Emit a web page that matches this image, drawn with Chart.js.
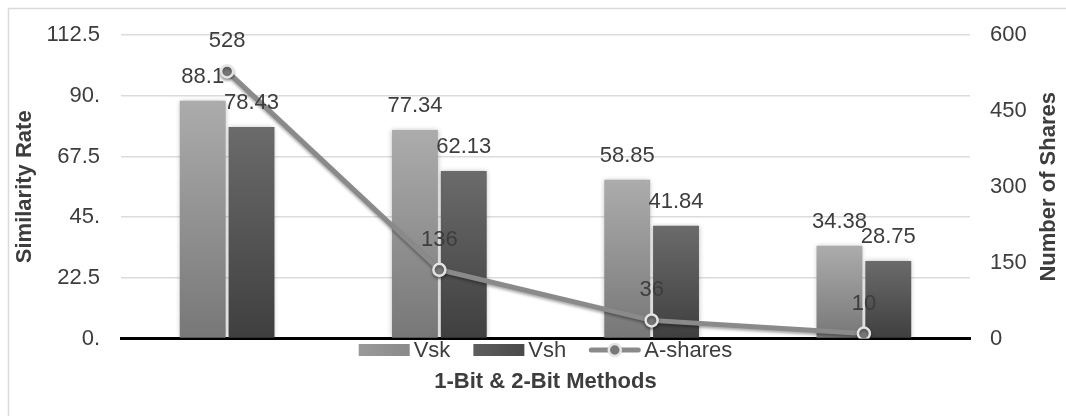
<!DOCTYPE html>
<html>
<head>
<meta charset="utf-8">
<script src="https://cdn.jsdelivr.net/npm/chart.js@4/dist/chart.umd.min.js"></script>
<style>
  html, body { margin: 0; padding: 0; background: #ffffff; }
  #wrap { width: 1066px; height: 416px; position: relative; }
</style>
</head>
<body>
<div id="wrap"><canvas id="chart" width="1066" height="416"></canvas></div>
<script>
// Method groups (no category text is drawn on the axis)
const categories = ['Method 1', 'Method 2', 'Method 3', 'Method 4'];

// Similarity rates (left axis)
const vskValues = [88.1, 77.34, 58.85, 34.38];
const vshValues = [78.43, 62.13, 41.84, 28.75];

// Number of shares (right axis)
const sharesValues = [528, 136, 36, 10];

// Axis ranges and tick steps
const leftTicks = [0, 22.5, 45, 67.5, 90, 112.5];
const rightTicks = [0, 150, 300, 450, 600];

const FONT = '"Liberation Sans", Arial, Helvetica, sans-serif';
const TEXT = '#3d3d3d';

function barGradient(topColor, bottomColor) {
  return function (ctx) {
    const chart = ctx.chart;
    const yScale = chart.scales && chart.scales.y;
    if (!chart.chartArea || !yScale || ctx.raw === undefined) return bottomColor;
    const yTop = yScale.getPixelForValue(ctx.raw);
    const yBot = yScale.getPixelForValue(0);
    if (!isFinite(yTop) || !isFinite(yBot) || yTop === yBot) return bottomColor;
    const g = chart.ctx.createLinearGradient(0, yTop, 0, yBot);
    g.addColorStop(0, topColor);
    g.addColorStop(1, bottomColor);
    return g;
  };
}

// Frame, right-hand axis title, value labels and the legend row
const decorations = {
  id: 'decorations',
  beforeDraw(chart) {
    const c = chart.ctx;
    c.save();
    c.strokeStyle = '#dadada';
    c.lineWidth = 1.5;
    c.strokeRect(8.5, 8.5, 1300, 700);
    c.restore();
  },
  beforeDatasetDraw(chart, args) {
    const c = chart.ctx;
    c.save();
    if (args.meta.type === 'bar') {
      c.shadowColor = 'rgba(0,0,0,0.28)';
      c.shadowBlur = 5;
    } else {
      c.shadowColor = 'rgba(0,0,0,0.35)';
      c.shadowBlur = 3;
      c.shadowOffsetY = 2;
    }
  },
  afterDatasetDraw(chart) {
    chart.ctx.restore();
  },
  afterDatasetsDraw(chart) {
    const c = chart.ctx;
    c.save();
    c.font = '22px ' + FONT;
    c.fillStyle = TEXT;
    c.textAlign = 'center';
    c.textBaseline = 'middle';
    chart.data.datasets.forEach((ds, di) => {
      const meta = chart.getDatasetMeta(di);
      meta.data.forEach((el, i) => {
        const off = meta.type === 'bar' ? 24 : 30;
        c.fillText(String(ds.data[i]), el.x, el.y - off);
      });
    });
    c.restore();
  },
  afterDraw(chart) {
    const c = chart.ctx;
    const area = chart.chartArea;
    c.save();
    // right axis title, reading upwards
    c.font = 'bold 22px ' + FONT;
    c.fillStyle = TEXT;
    c.textAlign = 'center';
    c.textBaseline = 'middle';
    c.translate(1049, (area.top + area.bottom) / 2);
    c.rotate(-Math.PI / 2);
    c.fillText('Number of Shares', 0, 0);
    c.restore();

    // legend row
    c.save();
    c.font = '22px ' + FONT;
    c.textBaseline = 'middle';
    c.textAlign = 'left';
    const boxW = 51, gapText = 4, gapItem = 23;
    const items = chart.data.datasets.map(ds => ({
      label: ds.label, type: ds.type || 'bar', swatch: ds.legendColor
    }));
    let total = 0;
    items.forEach((it, i) => {
      it.tw = c.measureText(it.label).width;
      total += boxW + gapText + it.tw + (i < items.length - 1 ? gapItem : 0);
    });
    let x = (area.left + area.right) / 2 - total / 2;
    const yc = 350;
    items.forEach(it => {
      if (it.type === 'line') {
        c.strokeStyle = '#8a8a8a';
        c.lineWidth = 5;
        c.lineCap = 'round';
        c.beginPath();
        c.moveTo(x + 2, yc);
        c.lineTo(x + boxW - 2, yc);
        c.stroke();
        c.beginPath();
        c.arc(x + boxW / 2, yc, 6, 0, Math.PI * 2);
        c.fillStyle = '#777777';
        c.fill();
        c.lineWidth = 2.5;
        c.strokeStyle = '#e4e4e4';
        c.stroke();
      } else {
        const g = c.createLinearGradient(x, 0, x + boxW, 0);
        g.addColorStop(0, it.swatch[0]);
        g.addColorStop(1, it.swatch[1]);
        c.fillStyle = g;
        c.fillRect(x, yc - 6, boxW, 12);
      }
      c.fillStyle = TEXT;
      c.fillText(it.label, x + boxW + gapText, yc + 1);
      x += boxW + gapText + it.tw + gapItem;
    });
    c.restore();
  }
};

new Chart(document.getElementById('chart'), {
  type: 'bar',
  data: {
    labels: categories,
    datasets: [
      {
        label: 'Vsk',
        data: vskValues,
        yAxisID: 'y',
        order: 1,
        backgroundColor: barGradient('#acacac', '#777777'),
        legendColor: ['#9a9a9a', '#8a8a8a'],
        categoryPercentage: 0.46,
        barPercentage: 0.94
      },
      {
        label: 'Vsh',
        data: vshValues,
        yAxisID: 'y',
        order: 1,
        backgroundColor: barGradient('#6b6b6b', '#3f3f3f'),
        legendColor: ['#5e5e5e', '#4a4a4a'],
        categoryPercentage: 0.46,
        barPercentage: 0.94
      },
      {
        label: 'A-shares',
        type: 'line',
        data: sharesValues,
        yAxisID: 'y1',
        order: 0,
        borderColor: '#8a8a8a',
        borderWidth: 5,
        tension: 0,
        pointRadius: 6,
        pointBackgroundColor: '#777777',
        pointBorderColor: '#e4e4e4',
        pointBorderWidth: 2.5
      }
    ]
  },
  options: {
    responsive: false,
    animation: false,
    layout: { padding: { top: 35, bottom: 21, left: 0, right: 0 } },
    plugins: {
      legend: { display: false },
      title: { display: false },
      tooltip: { enabled: false }
    },
    scales: {
      x: {
        ticks: { display: false },
        grid: { display: false, drawTicks: false },
        border: { display: true, color: '#000000', width: 3 },
        title: {
          display: true,
          text: '1-Bit & 2-Bit Methods',
          color: TEXT,
          font: { family: FONT, size: 22, weight: 'bold' },
          padding: { top: 30, bottom: 0 }
        }
      },
      y: {
        position: 'left',
        min: leftTicks[0],
        max: leftTicks[leftTicks.length - 1],
        afterBuildTicks(scale) {
          scale.ticks = leftTicks.map(v => ({ value: v }));
        },
        afterFit(scale) { scale.width = 121; },
        ticks: {
          color: TEXT,
          padding: 21,
          font: { family: FONT, size: 22 },
          callback: v => (Number.isInteger(v) ? v + '.' : String(v))
        },
        grid: { color: '#dcdcdc', lineWidth: 1.5, drawTicks: false },
        border: { display: false },
        title: {
          display: true,
          text: 'Similarity Rate',
          color: TEXT,
          font: { family: FONT, size: 22, weight: 'bold' },
          padding: { top: 12, bottom: 0 }
        }
      },
      y1: {
        position: 'right',
        min: rightTicks[0],
        max: rightTicks[rightTicks.length - 1],
        afterBuildTicks(scale) {
          scale.ticks = rightTicks.map(v => ({ value: v }));
        },
        afterFit(scale) { scale.width = 96; },
        ticks: {
          color: TEXT,
          padding: 20,
          font: { family: FONT, size: 22 }
        },
        grid: { display: false, drawTicks: false },
        border: { display: false }
      }
    }
  },
  plugins: [decorations]
});
</script>
</body>
</html>
